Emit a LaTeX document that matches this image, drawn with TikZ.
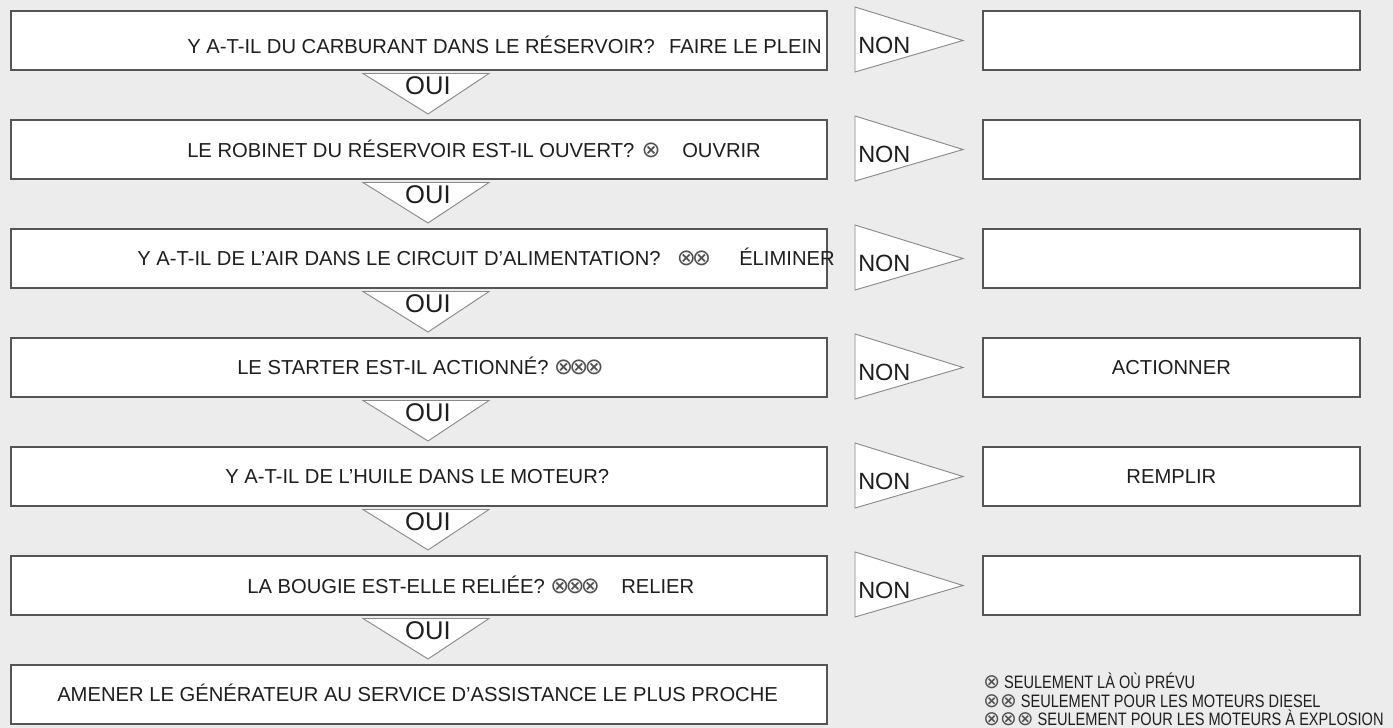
\documentclass[tikz,border=0pt]{standalone}
\usepackage{fontspec}
\setmainfont{Liberation Sans}
\newfontfamily\symf{DejaVu Sans}
\newfontfamily\narrowf[FakeStretch=0.81]{Liberation Sans}
\definecolor{bgc}{HTML}{ECECEC}
\definecolor{boxc}{HTML}{555555}
\definecolor{tric}{HTML}{8A8A8A}
\definecolor{txtc}{HTML}{1E1E1E}
\definecolor{symc}{HTML}{505050}
\newcommand{\oxb}{{\symf\fontsize{17pt}{19pt}\selectfont\color{symc}⊗}}
\newcommand{\oxn}{{\symf\fontsize{15pt}{17pt}\selectfont\color{symc}⊗}}
\newcommand{\kx}{\kern-2.8pt}
\tikzset{
  qbox/.style={draw=boxc, line width=1.3pt, fill=white, minimum width=612pt, minimum height=44.25pt, inner sep=0pt, anchor=north west},
  rbox/.style={draw=boxc, line width=1.3pt, fill=white, minimum width=282.75pt, minimum height=44.25pt, inner sep=0pt, anchor=north west},
  qtxt/.style={inner sep=0pt, anchor=base west, text=txtc, font=\fontsize{15.15pt}{18pt}\selectfont},
  qtxte/.style={qtxt, anchor=base east},
  ctxt/.style={qtxt, anchor=base},
  tri/.style={draw=tric, line width=0.7pt, fill=white, line join=miter},
  ouitxt/.style={inner sep=0pt, anchor=base, text=txtc, font=\fontsize{19.2pt}{22pt}\selectfont},
  nontxt/.style={inner sep=0pt, anchor=base west, text=txtc, font=\fontsize{17.6pt}{20pt}\selectfont},
  note/.style={inner sep=0pt, anchor=base west, text=txtc, font=\narrowf\fontsize{13.5pt}{16pt}\selectfont},
  symb/.style={inner sep=0pt, anchor=center, text=symc, font=\symf\fontsize{17pt}{19pt}\selectfont},
}
\begin{document}
\begin{tikzpicture}[x=0.75pt,y=-0.75pt]
\fill[bgc] (0,0) rectangle (1393,728);
\useasboundingbox (0,0) rectangle (1393,728);

% left question boxes
\foreach \i in {1,...,7}{
  \pgfmathsetmacro\t{10+109*(\i-1)}
  \node[qbox] (q\i) at (10,\t) {};
}
% right answer boxes, NON and OUI triangles
\foreach \i in {1,...,6}{
  \pgfmathsetmacro\t{10+109*(\i-1)}
  \pgfmathsetmacro\b{\t+59}
  \pgfmathsetmacro\c{\t+29.5}
  \node[rbox] (r\i) at (982,\t) {};
  \coordinate (nt\i) at (855,\t-3);
  \coordinate (nb\i) at (855,\b+3);
  \coordinate (na\i) at (963,\c+1);
  \draw[tri] (nt\i) -- (na\i) -- (nb\i) -- cycle;
  \node[nontxt] (non\i) at (858,\c+13.5) {NON};
  \coordinate (ol\i) at (363,\b+4.5);
  \coordinate (or\i) at (489,\b+4.5);
  \coordinate (oa\i) at (428,\t+109-5);
  \draw[tri] (ol\i) -- (or\i) -- (oa\i) -- cycle;
  \node[ouitxt] (oui\i) at (428,\t+84.5) {OUI};
}

% row texts
\node[qtxt] (t1) at (187,53) {Y A-T-IL DU CARBURANT DANS LE RÉSERVOIR?};
\node[qtxte] (a1) at (822,53) {FAIRE LE PLEIN};

\node[qtxt] (t2) at (187,157) {LE ROBINET DU RÉSERVOIR EST-IL OUVERT?};
\node[symb] (s2) at (651,150) {⊗};
\node[qtxt] (a2) at (682,157) {OUVRIR};

\node[qtxt] (t3) at (137,265) {Y A-T-IL DE L'AIR DANS LE CIRCUIT D'ALIMENTATION?};
\node[symb] (s3) at (694,258) {⊗\kx⊗};
\node[qtxt] (a3) at (739,265) {ÉLIMINER};

\node[qtxt] (t4) at (237,374) {LE STARTER EST-IL ACTIONNÉ? \oxb\kx\oxb\kx\oxb};
\node[ctxt] (a4) at (r4.center) [yshift=-5.4pt] {ACTIONNER};

\node[qtxt] (t5) at (225,483) {Y A-T-IL DE L’HUILE DANS LE MOTEUR?};
\node[ctxt] (a5) at (r5.center) [yshift=-5.4pt] {REMPLIR};

\node[qtxt] (t6) at (247,593) {LA BOUGIE EST-ELLE RELIÉE?};
\node[symb] (s6) at (575,586) {⊗\kx⊗\kx⊗};
\node[qtxt] (a6) at (621,593) {RELIER};

\node[qtxt] (t7) at (57,701) {AMENER LE GÉNÉRATEUR AU SERVICE D’ASSISTANCE LE PLUS PROCHE};

% footnotes
\node[note] (n1) at (983,688.5) {\oxn\ SEULEMENT LÀ OÙ PRÉVU};
\node[note] (n2) at (983,707) {\oxn\oxn\ SEULEMENT POUR LES MOTEURS DIESEL};
\node[note] (n3) at (983,725.5) {\oxn\oxn\oxn\ SEULEMENT POUR LES MOTEURS À EXPLOSION};
\end{tikzpicture}
\end{document}
